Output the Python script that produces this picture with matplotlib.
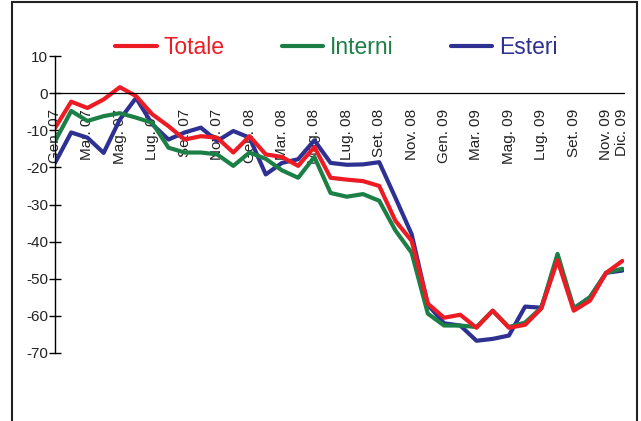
import matplotlib
matplotlib.use('Agg')
import matplotlib.pyplot as plt
from matplotlib.patches import Rectangle

# mesi da Gen. 07 a Dic. 09
mesi = list(range(36))

totale = [-9.4, -2.3, -4.0, -1.7, 1.6, -0.8, -5.7, -8.9, -12.5, -11.6,
          -12.0, -16.0, -11.6, -16.5, -17.2, -19.6, -14.5, -22.8, -23.3, -23.7,
          -25.0, -34.4, -39.8, -56.7, -60.5, -59.7, -63.2, -58.6, -63.2, -62.4,
          -58.0, -45.0, -58.6, -55.9, -48.4, -45.2]

interni = [-13.0, -4.8, -7.5, -6.2, -5.4, -6.6, -8.0, -14.7, -16.0, -16.0,
           -16.5, -19.6, -16.0, -17.7, -20.8, -22.8, -17.2, -26.9, -27.9, -27.2,
           -29.0, -37.0, -43.0, -59.4, -62.6, -62.6, -63.0, -58.6, -63.0, -61.8,
           -57.8, -43.3, -58.0, -55.0, -48.4, -47.3]

esteri = [-18.8, -10.6, -12.0, -16.1, -7.1, -1.3, -8.4, -12.5, -10.6, -9.3,
          -12.9, -10.2, -12.0, -21.9, -18.8, -17.8, -12.7, -18.8, -19.3, -19.2,
          -18.6, -28.2, -38.0, -57.0, -62.0, -62.6, -66.7, -66.2, -65.3, -57.5,
          -57.8, -44.5, -58.0, -55.0, -48.4, -47.8]

tick_pos = [0, 2, 4, 6, 8, 10, 12, 14, 16, 18, 20, 22, 24, 26, 28, 30, 32, 34, 35]
tick_lab = ['Gen. 07', 'Mar. 07', 'Mag. 07', 'Lug. 07', 'Set. 07', 'Nov. 07',
            'Gen. 08', 'Mar. 08', 'Mag. 08', 'Lug. 08', 'Set. 08', 'Nov. 08',
            'Gen. 09', 'Mar. 09', 'Mag. 09', 'Lug. 09', 'Set. 09', 'Nov. 09', 'Dic. 09']

rosso = '#ED1C24'
verde = '#1B7F46'
blu = '#2E3192'

plt.rcParams['font.family'] = ['Liberation Sans', 'DejaVu Sans']
plt.rcParams['axes.unicode_minus'] = False

fig = plt.figure(figsize=(6.41, 4.21), dpi=100)
ax = fig.add_axes([55 / 641, 1 - 353 / 421, (624 - 55) / 641, (353 - 56) / 421])

l_est, = ax.plot(mesi, esteri, color=blu, lw=3, solid_joinstyle='round', solid_capstyle='round')
l_int, = ax.plot(mesi, interni, color=verde, lw=3, solid_joinstyle='round', solid_capstyle='round')
l_tot, = ax.plot(mesi, totale, color=rosso, lw=3, solid_joinstyle='round', solid_capstyle='round')

ax.set_xlim(0, 35.1)
ax.set_ylim(-70, 10)
ax.set_yticks(range(-70, 11, 10))

for s in ['top', 'right']:
    ax.spines[s].set_visible(False)
ax.spines['bottom'].set_position(('data', 0))
ax.spines['bottom'].set_linewidth(0.9)
ax.spines['left'].set_linewidth(1.0)

ax.set_xticks(tick_pos)
ax.set_xticklabels(tick_lab, rotation=90, va='top', ha='center')
ax.tick_params(axis='x', length=0, pad=11.5, labelsize=11, labelcolor='#222222')
ax.tick_params(axis='y', direction='inout', length=8, width=1, pad=1,
               labelsize=11, labelcolor='#222222')

leg = fig.legend([l_tot, l_int, l_est], ['Totale', 'Interni', 'Esteri'],
                 loc='center', bbox_to_anchor=(0.525, 0.886), ncol=3, frameon=False,
                 fontsize=16.5, handlelength=1.8, handletextpad=0.3, columnspacing=2.5)
for txt, c in zip(leg.get_texts(), [rosso, verde, blu]):
    txt.set_color(c)

# cornice esterna
fig.patches.append(Rectangle((12 / 641, -0.1), (637 - 12) / 641, 1.1 - 2 / 421,
                             transform=fig.transFigure, fill=False,
                             edgecolor='#222222', lw=1.5))

fig.savefig('out.png', dpi=100)
